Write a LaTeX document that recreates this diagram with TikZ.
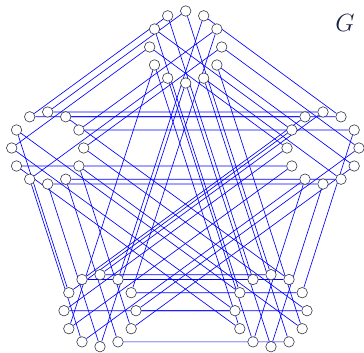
\documentclass[tikz,border=0pt]{standalone}
\usetikzlibrary{backgrounds}
\definecolor{edgeblue}{RGB}{0,0,255}
\definecolor{nodegray}{RGB}{50,55,70}
\definecolor{labelnavy}{RGB}{25,35,70}
\begin{document}
\begin{tikzpicture}[x=1pt,y=-1pt,
  vtx/.style={circle,draw=nodegray,fill=white,line width=0.6pt,inner sep=0pt,minimum size=10.5pt},
  edge/.style={draw=edgeblue,line width=0.65pt}]
\useasboundingbox (0,0) rectangle (364,353);
\foreach \c/\cx/\cy in {T/185.7/47,L/47.7/148,R/323/148,A/100/310.7,B/271/310.7}{
  \foreach \k in {0,...,11}{
    \node[vtx] (\c\k) at ({\cx+36*cos(90-30*\k)},{\cy-36*sin(90-30*\k)}) {};
  }
}
\begin{scope}[on background layer]
% each layer k is a cycle through the five clusters
\foreach \k/\a/\b/\c/\d/\e in {
  0/T/L/R/A/B, 1/T/R/L/B/A, 2/T/L/R/B/A, 3/T/L/B/A/R,
  4/T/R/A/L/B, 5/T/R/L/A/B, 6/T/A/L/R/B, 7/T/B/R/A/L,
  8/T/B/L/R/A, 9/T/R/A/B/L, 10/T/R/A/L/B, 11/T/L/R/A/B}{
  \draw[edge] (\a\k) -- (\b\k) -- (\c\k) -- (\d\k) -- (\e\k) -- (\a\k);
}
\end{scope}
\node[text=labelnavy,font=\fontsize{23}{25}\selectfont] (lab) at (345,23) {$G$};
\end{tikzpicture}
\end{document}
